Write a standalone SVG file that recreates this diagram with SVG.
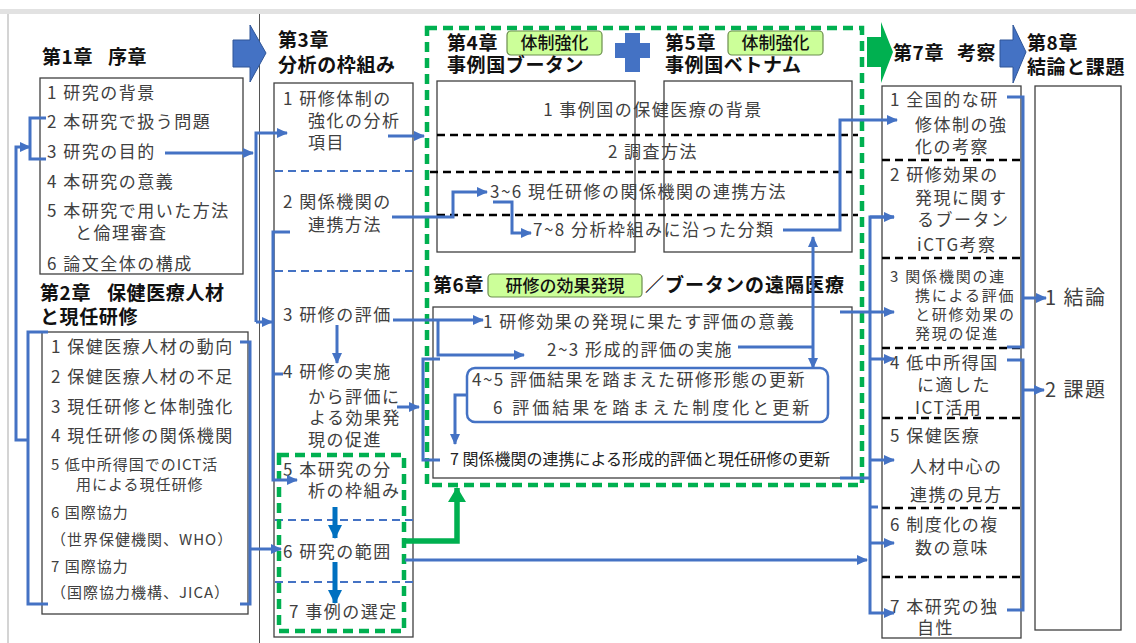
<svg xmlns="http://www.w3.org/2000/svg" width="1136" height="643" viewBox="0 0 1136 643">
<defs>
<style>
.it{font-family:"Noto Sans CJK JP","Noto Sans",sans-serif;font-size:17px;letter-spacing:1.5px;fill:#404040}
.sm{font-size:15px;letter-spacing:1px}
.c16{font-size:15px;letter-spacing:1.8px}
.ti{font-family:"Noto Sans CJK JP","Noto Sans",sans-serif;font-size:19px;letter-spacing:0.6px;font-weight:700;fill:#111}
.bg{font-family:"Noto Sans CJK JP","Noto Sans",sans-serif;font-size:17px;font-weight:500;fill:#111}
.bx{fill:#fff;stroke:#404040;stroke-width:1.3}
.cn{fill:none;stroke:#4472C4;stroke-width:3}
.bd{fill:none;stroke:#4472C4;stroke-width:2;stroke-dasharray:8 5}
.kd{fill:none;stroke:#000;stroke-width:2.5;stroke-dasharray:8 5}
.gd{fill:none;stroke:#00B050;stroke-width:4.5;stroke-dasharray:10 6}
.badge{fill:#CCFF99;stroke:#6b8e4e;stroke-width:1.2}
</style>
<marker id="ab" markerUnits="userSpaceOnUse" markerWidth="11" markerHeight="10" refX="10" refY="5" orient="auto"><path d="M0,0 L11,5 L0,10 z" fill="#4472C4"/></marker>
<marker id="ad" markerUnits="userSpaceOnUse" markerWidth="15" markerHeight="14" refX="13" refY="7" orient="auto"><path d="M0,0 L14,7 L0,14 z" fill="#0070C0"/></marker>
<marker id="ag" markerUnits="userSpaceOnUse" markerWidth="16" markerHeight="18" refX="14" refY="9" orient="auto"><path d="M0,0 L15,9 L0,18 z" fill="#00B050"/></marker>
</defs>
<rect width="1136" height="643" fill="#fff"/>
<rect x="0" y="9" width="1136" height="5" fill="#e2e2e2"/>
<line x1="8" y1="14" x2="8" y2="643" stroke="#d4d4d4" stroke-width="2"/>
<line x1="259.5" y1="14" x2="259.5" y2="643" stroke="#555" stroke-width="1"/>

<g id="ch1">
<text class="ti" x="42" y="64">第1章</text>
<text class="ti" x="108" y="64">序章</text>
<rect class="bx" x="40" y="78" width="203" height="196"/>
<text class="it" x="47" y="99">1 研究の背景</text>
<text class="it" x="47" y="128">2 本研究で扱う問題</text>
<text class="it" x="47" y="158">3 研究の目的</text>
<text class="it" x="47" y="188">4 本研究の意義</text>
<text class="it" x="47" y="217">5 本研究で用いた方法</text>
<text class="it" x="75" y="239">と倫理審査</text>
<text class="it" x="47" y="270">6 論文全体の構成</text>
</g>

<g id="ch2">
<text class="ti" x="40" y="300">第2章</text>
<text class="ti" x="107" y="300">保健医療人材</text>
<text class="ti" x="40" y="324">と現任研修</text>
<rect class="bx" x="42" y="332" width="206" height="282"/>
<text class="it" x="51" y="353">1 保健医療人材の動向</text>
<text class="it" x="51" y="383">2 保健医療人材の不足</text>
<text class="it" x="51" y="413">3 現任研修と体制強化</text>
<text class="it" x="51" y="442">4 現任研修の関係機関</text>
<text class="it sm" x="51" y="470">5 低中所得国でのICT活</text>
<text class="it sm" x="76" y="490">用による現任研修</text>
<text class="it sm" x="51" y="518">6 国際協力</text>
<text class="it sm" x="51" y="545">（世界保健機関、WHO）</text>
<text class="it sm" x="51" y="572">7 国際協力</text>
<text class="it sm" x="51" y="598">（国際協力機構、JICA）</text>
</g>

<g id="arrow13">
<polygon points="233,40 250,40 250,25 266,53 250,82 250,67 233,67" fill="#4472C4" stroke="#2F5597" stroke-width="1"/>
</g>

<g id="ch3">
<text class="ti" x="278" y="47">第3章</text>
<text class="ti" x="278" y="72">分析の枠組み</text>
<rect class="bx" x="274" y="83" width="139" height="554"/>
<line class="bd" x1="275" y1="171" x2="414" y2="171"/>
<line class="bd" x1="275" y1="271" x2="414" y2="271"/>
<line class="bd" x1="275" y1="520" x2="414" y2="520"/>
<line class="bd" x1="275" y1="582" x2="414" y2="582"/>
<text class="it" x="283" y="105">1 研修体制の</text>
<text class="it" x="308" y="127">強化の分析</text>
<text class="it" x="308" y="149">項目</text>
<text class="it" x="283" y="208">2 関係機関の</text>
<text class="it" x="308" y="231">連携方法</text>
<text class="it" x="283" y="321">3 研修の評価</text>
<text class="it" x="283" y="378">4 研修の実施</text>
<text class="it" x="308" y="403">から評価に</text>
<text class="it" x="309" y="424">よる効果発</text>
<text class="it" x="308" y="446">現の促進</text>
<text class="it" x="283" y="476">5 本研究の分</text>
<text class="it" x="308" y="497">析の枠組み</text>
<text class="it" x="283" y="558">6 研究の範囲</text>
<text class="it" x="289" y="618">7 事例の選定</text>
<rect class="gd" x="279" y="455" width="125" height="176" stroke-width="4"/>
</g>

<g id="ch45">
<rect class="gd" x="427" y="28" width="435" height="457"/>
<text class="ti" x="447" y="50">第4章</text>
<rect class="badge" x="507" y="31" width="95" height="24" rx="4"/>
<text class="bg" x="554.5" y="49" text-anchor="middle">体制強化</text>
<text class="ti" x="447" y="72">事例国ブータン</text>
<g fill="#4472C4"><rect x="615" y="43" width="35" height="15"/><rect x="625" y="33" width="15" height="39"/></g>
<text class="ti" x="665" y="50">第5章</text>
<rect class="badge" x="728" y="31" width="95" height="24" rx="4"/>
<text class="bg" x="775.5" y="49" text-anchor="middle">体制強化</text>
<text class="ti" x="665" y="72">事例国ベトナム</text>
<rect class="bx" x="437" y="81" width="198" height="171" fill="none"/>
<rect class="bx" x="664" y="81" width="188" height="171" fill="none"/>
<line class="kd" x1="437" y1="135" x2="858" y2="135"/>
<line class="kd" x1="430" y1="172" x2="852" y2="172"/>
<line class="kd" x1="437" y1="215" x2="858" y2="215"/>
<text class="it" x="653" y="116" text-anchor="middle">1 事例国の保健医療の背景</text>
<text class="it" x="653" y="158" text-anchor="middle">2 調査方法</text>
<text class="it" x="490" y="198">3~6 現任研修の関係機関の連携方法</text>
<text class="it" x="533" y="236">7~8 分析枠組みに沿った分類</text>
</g>

<g id="ch6">
<text class="ti" x="433" y="292">第6章</text>
<rect class="badge" x="488" y="274" width="154" height="23" rx="4"/>
<text class="bg" x="565" y="292" text-anchor="middle" font-size="18">研修の効果発現</text>
<text class="ti" x="645" y="292" style="letter-spacing:1px">／ブータンの遠隔医療</text>
<rect class="bx" x="433" y="307" width="419" height="171" fill="none"/>
<text class="it" x="483" y="328">1 研修効果の発現に果たす評価の意義</text>
<text class="it" x="547" y="356">2~3 形成的評価の実施</text>
<rect x="467" y="368" width="361" height="54" rx="8" fill="none" stroke="#4472C4" stroke-width="2.5"/>
<text class="it" x="472" y="386">4~5 評価結果を踏まえた研修形態の更新</text>
<text class="it" x="493" y="414" style="letter-spacing:3px">6 評価結果を踏まえた制度化と更新</text>
<text class="it" x="450" y="465" style="font-size:16px;letter-spacing:0;fill:#222">7 関係機関の連携による形成的評価と現任研修の更新</text>
</g>

<g id="arrow7">
<polygon points="867,37 881,37 881,22 893,52 881,83 881,67 867,67" fill="#00B050"/>
</g>
<g id="arrow8">
<polygon points="1000,40 1013,40 1013,25 1026,52 1013,83 1013,67 1000,67" fill="#4472C4" stroke="#2F5597" stroke-width="1"/>
</g>

<g id="ch7">
<text class="ti" x="893" y="60">第7章</text>
<text class="ti" x="957" y="60">考察</text>
<rect class="bx" x="882" y="86" width="139" height="552"/>
<line class="kd" x1="882" y1="160" x2="1021" y2="160"/>
<line class="kd" x1="882" y1="258" x2="1021" y2="258"/>
<line class="kd" x1="882" y1="348" x2="1021" y2="348"/>
<line class="kd" x1="882" y1="418" x2="1021" y2="418"/>
<line class="kd" x1="882" y1="508" x2="1021" y2="508"/>
<line class="kd" x1="882" y1="577" x2="1021" y2="577"/>
<text class="it" x="890" y="106">1 全国的な研</text>
<text class="it" x="915" y="131">修体制の強</text>
<text class="it" x="915" y="153">化の考察</text>
<text class="it" x="890" y="181">2 研修効果の</text>
<text class="it" x="915" y="204">発現に関す</text>
<text class="it" x="917" y="226">るブータン</text>
<text class="it" x="917" y="251">iCTG考察</text>
<text class="it c16" x="890" y="282">3 関係機関の連</text>
<text class="it c16" x="915" y="301">携による評価</text>
<text class="it c16" x="915" y="320">と研修効果の</text>
<text class="it c16" x="915" y="339">発現の促進</text>
<text class="it" x="890" y="369">4 低中所得国</text>
<text class="it" x="917" y="391">に適した</text>
<text class="it" x="915" y="414">ICT活用</text>
<text class="it" x="890" y="442">5 保健医療</text>
<text class="it" x="910" y="473">人材中心の</text>
<text class="it" x="910" y="501">連携の見方</text>
<text class="it" x="890" y="531">6 制度化の複</text>
<text class="it" x="915" y="554">数の意味</text>
<text class="it" x="890" y="613">7 本研究の独</text>
<text class="it" x="917" y="634">自性</text>
</g>

<g id="ch8">
<text class="ti" x="1027" y="50">第8章</text>
<text class="ti" x="1027" y="74">結論と課題</text>
<rect class="bx" x="1035" y="86" width="86" height="544"/>
<text class="it" x="1045" y="305" style="font-size:20px">1 結論</text>
<text class="it" x="1045" y="397" style="font-size:20px">2 課題</text>
</g>

<g id="connectors">
<path class="cn" d="M46,118 H30 V159 H46"/>
<path class="cn" d="M48,332 H28 V604 H48"/>
<path class="cn" d="M28,440 H16 V147 H30" marker-end="url(#ab)"/>
<path class="cn" d="M165,153 H253" marker-end="url(#ab)"/>
<path class="cn" d="M256,322 V133 H287" marker-end="url(#ab)"/>
<path class="cn" d="M256,322 H272" marker-end="url(#ab)"/>
<path class="cn" d="M240,342 H250 V604 H240"/>
<path class="cn" d="M250,549 H281" marker-end="url(#ab)"/>
<path class="cn" d="M388,136 H424" marker-end="url(#ab)"/>
<path class="cn" d="M392,217 H453 V192 H487" marker-end="url(#ab)"/>
<path class="cn" d="M493,202 H512 V233 H531" marker-end="url(#ab)"/>
<path class="cn" d="M290,232 H273 V480 H297" marker-end="url(#ab)"/>
<path class="cn" d="M273,374 H283"/>
<path class="cn" d="M393,320 H483" marker-end="url(#ab)"/>
<path class="cn" d="M438,320 V355 H524" marker-end="url(#ab)"/>
<path class="cn" d="M337,325 V363" marker-end="url(#ab)"/>
<path class="cn" d="M397,407 H419" marker-end="url(#ab)"/>
<path class="cn" d="M440,359 H423 V460 H440"/>
<path class="cn" d="M467,395 H455 V444" marker-end="url(#ab)"/>
<path class="cn" d="M738,347 H813"/>
<path class="cn" d="M813,347 V237" marker-end="url(#ab)"/>
<path class="cn" d="M813,347 V368" marker-end="url(#ab)"/>
<path class="cn" d="M783,230 H840 V120 H897" marker-end="url(#ab)"/>
<path class="cn" d="M894,217 H870 V613 H894" marker-end="url(#ab)"/>
<path class="cn" d="M870,217 H894" marker-end="url(#ab)"/>
<path class="cn" d="M840,312 H894" marker-end="url(#ab)"/>
<path class="cn" d="M870,359 H894" marker-end="url(#ab)"/>
<path class="cn" d="M870,460 H894" marker-end="url(#ab)"/>
<path class="cn" d="M840,478 H870"/>
<path class="cn" d="M870,507 H878"/>
<path class="cn" d="M870,543 H894" marker-end="url(#ab)"/>
<path class="cn" d="M405,560 H867" marker-end="url(#ab)"/>
<path class="cn" d="M1007,97 H1023 V347 H1007"/>
<path class="cn" d="M1023,298 H1046" marker-end="url(#ab)"/>
<path class="cn" d="M1007,360 H1023 V610 H1007"/>
<path class="cn" d="M1023,390 H1044" marker-end="url(#ab)"/>
<path d="M335,507 V538" fill="none" stroke="#0070C0" stroke-width="5" marker-end="url(#ad)"/>
<path d="M335,562 V603" fill="none" stroke="#0070C0" stroke-width="5" marker-end="url(#ad)"/>
<path d="M405,541 H457 V488" fill="none" stroke="#00B050" stroke-width="5.5" marker-end="url(#ag)"/>
</g>
</svg>
